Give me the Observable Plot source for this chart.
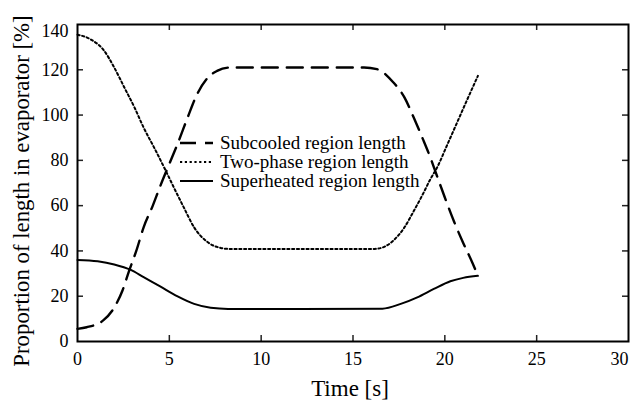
<!DOCTYPE html>
<html><head><meta charset="utf-8">
<script src="https://cdn.jsdelivr.net/npm/d3@7"></script>
<script src="https://cdn.jsdelivr.net/npm/@observablehq/plot@0.6"></script>
<style>
html,body{margin:0;padding:0;background:#fff;}
#wrap{position:relative;width:631px;height:402px;}
#legend{position:absolute;left:0;top:0;pointer-events:none;}
</style></head><body><div id="wrap"></div>
<script>
// ---- data ----
const seriesNames = ["Subcooled region length", "Two-phase region length", "Superheated region length"];

const subT = [0, 0.5, 1.4, 2.0, 2.45, 2.8, 3.2, 3.6, 4.1, 4.5, 4.9, 5.45, 6.0, 6.5, 7.1, 7.6, 8.3, 12, 15.6, 16.3, 17.2, 17.8, 18.3, 18.8, 19.2, 19.6, 20.0, 20.5, 21.0, 21.5, 21.8];
const subV = [5.6, 6.3, 9.3, 15, 22.5, 31, 40, 50.4, 60, 68.5, 76.5, 87.3, 99, 109, 116.6, 119.5, 121, 121, 121, 120.3, 114.4, 107.8, 99, 89.5, 81.5, 72.5, 63.6, 53, 43.5, 34.8, 29.1];

const twoT = [0, 0.7, 1.45, 2.0, 2.55, 3.1, 3.6, 4.2, 4.8, 5.2, 5.8, 6.35, 7.1, 7.8, 8.2, 12, 16.2, 16.7, 17.2, 17.8, 18.3, 18.8, 19.2, 19.6, 20.1, 20.7, 21.2, 21.8];
const twoV = [135.5, 133.5, 128.4, 121, 112.2, 103.4, 94.5, 85.2, 75.5, 68.8, 59, 50.4, 43.8, 41.3, 40.9, 40.8, 40.9, 41.8, 44.6, 50.4, 57.5, 65, 71.5, 77.2, 86.3, 97.3, 106.5, 117.3];

const supT = [0, 1.1, 2.0, 2.9, 3.6, 4.5, 5.45, 6.35, 7.25, 8.2, 12, 16.6, 17.6, 18.5, 19.4, 20.3, 21.0, 21.8];
const supV = [36, 35.4, 34, 31.6, 28.4, 24.3, 19.9, 16.6, 14.9, 14.4, 14.4, 14.5, 16.6, 19.5, 23.2, 26.6, 28.1, 29];

const xTicks = [0, 5, 10, 15, 20, 25, 30];
const yTicks = [0, 20, 40, 60, 80, 100, 120, 140];
const xLabel = "Time [s]";
const yLabel = "Proportion of length in evaporator [%]";

// ---- build rows ----
const toRows = (T, V, s) => T.map((t, i) => ({t, v: V[i], s}));
const sub = toRows(subT, subV, seriesNames[0]);
const two = toRows(twoT, twoV, seriesNames[1]);
const sup = toRows(supT, supV, seriesNames[2]);

// ---- layout & styles ----
const W = 631, H = 402, mL = 77, mR = 3, mT = 24, mB = 61;
const innerH = H - mT - mB, innerW = W - mL - mR;
const serif = "Liberation Serif";
const tickLen = 6;
const lineStyles = [
  {dash: "16,9", w: 2.4},
  {dash: "2.2,2.6", w: 2},
  {dash: null, w: 2}
];
const tickStyle = {stroke: "#222", strokeWidth: 1.5};
const txt = {fill: "black", fontFamily: serif};

const chart = Plot.plot({
  width: W, height: H,
  marginLeft: mL, marginRight: mR, marginTop: mT, marginBottom: mB,
  x: {domain: [0, 30], axis: null},
  y: {domain: [0, 140], axis: null},
  style: {fontFamily: serif, background: "white", color: "black"},
  marks: [
    Plot.line(sub, {x: "t", y: "v", curve: "monotone-x", stroke: "black", strokeWidth: lineStyles[0].w, strokeDasharray: lineStyles[0].dash}),
    Plot.line(two, {x: "t", y: "v", curve: "monotone-x", stroke: "black", strokeWidth: lineStyles[1].w, strokeDasharray: lineStyles[1].dash}),
    Plot.line(sup, {x: "t", y: "v", curve: "monotone-x", stroke: "black", strokeWidth: lineStyles[2].w}),
    // inward ticks on all four sides
    Plot.tickX(xTicks.slice(1, -1), {x: d => d, insetTop: innerH - tickLen, ...tickStyle}),
    Plot.tickX(xTicks.slice(1, -1), {x: d => d, insetBottom: innerH - tickLen, ...tickStyle}),
    Plot.tickY(yTicks.slice(1, -1), {y: d => d, insetRight: innerW - tickLen, ...tickStyle}),
    Plot.tickY(yTicks.slice(1, -1), {y: d => d, insetLeft: innerW - tickLen, ...tickStyle}),
    Plot.frame({stroke: "black", strokeWidth: 2}),
    // tick labels
    Plot.text(xTicks.slice(0, -1), {x: d => d, frameAnchor: "bottom", textAnchor: "middle", lineAnchor: "middle", dy: 18, fontSize: 18, text: d => String(d), ...txt}),
    Plot.text(xTicks.slice(-1), {x: d => d, frameAnchor: "bottom", lineAnchor: "middle", textAnchor: "end", dy: 18, fontSize: 18, text: d => String(d), ...txt}),
    Plot.text(yTicks.slice(0, -1), {y: d => d, frameAnchor: "left", textAnchor: "end", lineAnchor: "middle", dx: -9, fontSize: 18, text: d => String(d), ...txt}),
    Plot.text(yTicks.slice(-1), {y: d => d, frameAnchor: "left", textAnchor: "end", lineAnchor: "top", dx: -9, fontSize: 18, text: d => String(d), ...txt}),
    // axis titles
    Plot.text([xLabel], {frameAnchor: "bottom", textAnchor: "middle", lineAnchor: "middle", dx: -3, dy: 47, fontSize: 23, text: d => d, ...txt}),
    Plot.text([yLabel], {frameAnchor: "left", textAnchor: "middle", rotate: -90, lineAnchor: "middle", dx: -56, dy: 8, fontSize: 22.8, text: d => d, ...txt})
  ]
});
const wrap = document.getElementById("wrap");
wrap.appendChild(chart);

// ---- legend overlay ----
const legX0 = 180, legX1 = 213, legTextX = 220, legY0 = 143, legDy = 19;
const leg = d3.select(wrap).append("svg").attr("id", "legend").attr("width", W).attr("height", H);
seriesNames.forEach((name, i) => {
  const y = legY0 + i * legDy;
  const ln = leg.append("line").attr("x1", legX0).attr("x2", legX1).attr("y1", y).attr("y2", y)
    .attr("stroke", "black").attr("stroke-width", lineStyles[i].w);
  if (lineStyles[i].dash) ln.attr("stroke-dasharray", lineStyles[i].dash);
  leg.append("text").attr("x", legTextX).attr("y", y + 5.5)
    .attr("font-family", serif).attr("font-size", 19).attr("fill", "black").text(name);
});
</script>
</body></html>
